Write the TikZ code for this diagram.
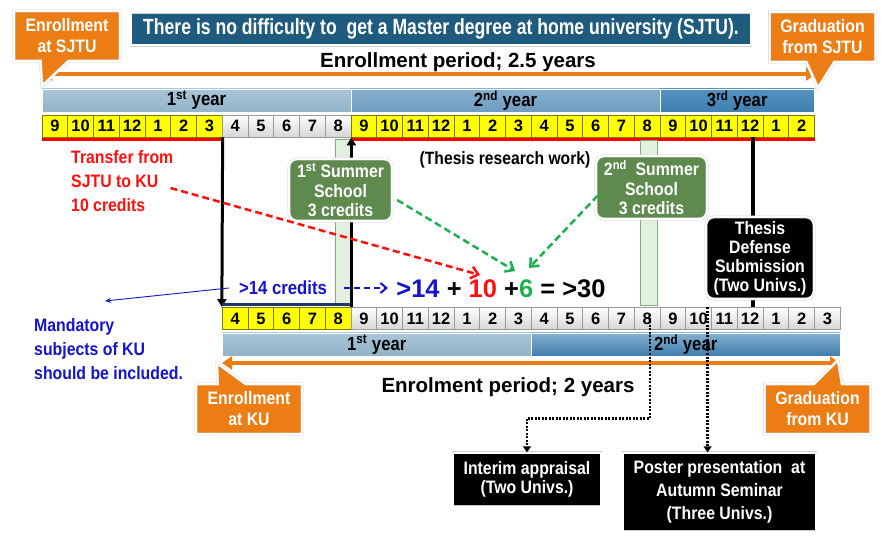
\documentclass[tikz,border=0pt]{standalone}
\usepackage{fontspec}
\setmainfont{Liberation Sans}
\newfontfamily\cond[FakeStretch=0.88]{Liberation Sans}
\newfontfamily\condT[FakeStretch=0.8]{Liberation Sans}
\usetikzlibrary{arrows.meta,shapes.callouts,calc}
\definecolor{orangeC}{HTML}{EC7D14}
\definecolor{titleblue}{HTML}{1F5B7E}
\definecolor{greenC}{HTML}{5E8A4E}
\definecolor{yel}{HTML}{FFFF00}
\definecolor{yeldark}{HTML}{7A7A00}
\definecolor{cellgray}{HTML}{D6D6D6}
\definecolor{cellgraydark}{HTML}{9A9A9A}
\definecolor{stripC}{HTML}{CFE6CC}
\definecolor{stripD}{HTML}{7FAF7C}
\definecolor{navyC}{HTML}{1F3864}
\definecolor{blueT}{HTML}{1414C8}
\definecolor{redT}{HTML}{FF1010}
\definecolor{greenT}{HTML}{1FAF4F}
\definecolor{yA}{HTML}{A9C5D8}
\definecolor{yAd}{HTML}{93B3C8}
\definecolor{yB}{HTML}{86B0CF}
\definecolor{yBd}{HTML}{6E9CC0}
\definecolor{yC}{HTML}{5592C0}
\definecolor{yCd}{HTML}{3F7EAE}
\tikzset{
  cellbase/.style={minimum width=25.75pt, minimum height=22pt, inner sep=0pt, line width=0.8pt, font=\fontsize{16.5}{16.5}\selectfont\bfseries},
  cellY/.style={cellbase, fill=yel, draw=yeldark},
  cellW/.style={cellbase, top color=white, bottom color=cellgray, draw=cellgraydark},
  yearbar/.style={minimum height=23pt, inner sep=0pt, draw=white, line width=0.6pt, font=\cond\bfseries\fontsize{19}{19}\selectfont},
  callbox/.style={rectangle callout, fill=orangeC, draw=gray!35, double=white, double distance=2pt, text=white, align=center, font=\cond\bfseries\fontsize{18}{21}\selectfont, minimum width=106pt, minimum height=50pt, inner sep=0pt, callout pointer width=28pt},
  greenbox/.style={fill=greenC, rounded corners=8pt, draw=gray!35, double=white, double distance=2pt, text=white, align=center, font=\cond\bfseries\fontsize{18}{19.5}\selectfont, inner sep=0pt},
  blackbox/.style={fill=black, draw=gray!40, double=white, double distance=2pt, text=white, align=center, font=\cond\bfseries\fontsize{18}{19}\selectfont, inner sep=0pt},
  strip/.style={fill=stripC, draw=stripD, line width=0.6pt, fill opacity=0.6, inner sep=0pt},
  orangearrow/.style={draw=orangeC, line width=4pt, {Triangle[length=10pt,width=13pt]}-{Triangle[length=10pt,width=13pt]}},
  periodtxt/.style={font=\bfseries\fontsize{20.5}{20.5}\selectfont},
  blackarrow/.style={draw=black, line width=3pt, -{Triangle[length=8pt,width=9pt]}},
  dotarrow/.style={draw=black, line width=2.5pt, dash pattern=on 2pt off 1.5pt, -{Triangle[length=6pt,width=8pt]}},
  dasharrow/.style={line width=2.5pt, dash pattern=on 7pt off 4pt, -{Straight Barb[length=7pt,width=12pt]}},
  plaintxt/.style={font=\cond\bfseries\fontsize{18}{24}\selectfont, align=left, inner sep=0pt},
}
\begin{document}
\begin{tikzpicture}[x=1pt,y=-1pt]
\useasboundingbox[fill=white] (0,0) rectangle (881,537);

% ---------- top timeline ----------
\coordinate (oa1) at (42,74); \coordinate (oa2) at (816,74);
\draw[orangearrow] (oa1) -- (oa2);
\node[periodtxt] (per1) at (458,62) {Enrollment period; 2.5 years};

\node[yearbar, minimum width=309pt, top color=yA, bottom color=yAd] (ty1) at (196.5,100.5) {1\textsuperscript{st} year};
\node[yearbar, minimum width=309pt, top color=yB, bottom color=yBd] (ty2) at (505.5,100.5) {2\textsuperscript{nd} year};
\node[yearbar, minimum width=154.5pt, top color=yC, bottom color=yCd] (ty3) at (737.25,100.5) {3\textsuperscript{rd} year};

\foreach \m [count=\i from 0] in {9,10,11,12,1,2,3}
  \node[cellY] (t\i) at ({42+25.75*(\i+0.5)},126) {\m};
\foreach \m [count=\i from 7] in {4,5,6,7,8}
  \node[cellW] (t\i) at ({42+25.75*(\i+0.5)},126) {\m};
\foreach \m [count=\i from 12] in {9,10,11,12,1,2,3,4,5,6,7,8,9,10,11,12,1,2}
  \node[cellY] (t\i) at ({42+25.75*(\i+0.5)},126) {\m};

\draw[red, line width=3pt] ([yshift=-2.5pt]t0.south west) -- ([yshift=-2.5pt]t6.south east);
\draw[red, line width=3pt] ([yshift=-2.5pt]t12.south west) -- ([yshift=-2.5pt]t29.south east);

% ---------- bottom timeline ----------
\foreach \m [count=\i from 0] in {4,5,6,7,8}
  \node[cellY] (b\i) at ({222.25+25.75*(\i+0.5)},318.5) {\m};
\foreach \m [count=\i from 5] in {9,10,11,12,1,2,3,4,5,6,7,8,9,10,11,12,1,2,3}
  \node[cellW] (b\i) at ({222.25+25.75*(\i+0.5)},318.5) {\m};

\node[yearbar, minimum width=309pt, top color=yA, bottom color=yAd] (by1) at (376.75,344.5) {1\textsuperscript{st} year};
\node[yearbar, minimum width=309pt, top color=yB, bottom color=yCd] (by2) at (685.75,344.5) {2\textsuperscript{nd} year};

\coordinate (ob1) at (222,363); \coordinate (ob2) at (840,363);
\draw[orangearrow] (ob1) -- (ob2);
\node[periodtxt] (per2) at (508,387) {Enrolment period; 2 years};

% ---------- title ----------
\node[fill=titleblue, draw=gray!35, double=white, double distance=2pt, minimum width=620pt, minimum height=33pt, inner sep=0pt, text=white, font=\condT\bfseries\fontsize{22}{22}\selectfont] (title) at (441,29) {There is no difficulty to~ get a Master degree at home university (SJTU).};

% ---------- callouts ----------
\node[callbox, callout absolute pointer={(42,86)}] (enrS) at (67,36) {Enrollment\\at SJTU};
\node[callbox, callout absolute pointer={(818,88)}] (gradS) at (822.5,37) {Graduation\\from SJTU};
\node[callbox, callout absolute pointer={(217,363)}] (enrK) at (249,409) {Enrollment\\at KU};
\node[callbox, callout absolute pointer={(838,360)}] (gradK) at (817.5,409) {Graduation\\from KU};

% ---------- strips and bracket ----------
\node[strip, minimum width=15pt, minimum height=165pt] (s1) at (343,222) {};
\node[strip, minimum width=17pt, minimum height=165pt] (s2) at (648.5,222.5) {};

\draw[blackarrow] (t6.south east) -- (b0.north west);
\draw[navyC, line width=3pt] ($(b0.north west)+(0,-3)$) -- ($(b4.north east)+(0,-3)$);
\draw[blackarrow] (b4.north east) -- (t11.south east);

\draw[black, line width=4pt] ([xshift=3pt]t27.south) -- ([xshift=3pt]b20.north);

% ---------- boxes ----------
\node[greenbox, minimum width=103pt, minimum height=62pt] (ss1) at (340.5,190) {1\textsuperscript{st} Summer\\School\\3 credits};
\node[greenbox, minimum width=111pt, minimum height=63pt] (ss2) at (651.5,187.5) {2\textsuperscript{nd}~ Summer\\School\\3 credits};
\node[blackbox, rounded corners=8pt, minimum width=108pt, minimum height=82pt] (thesis) at (760,258) {Thesis\\Defense\\Submission\\(Two Univs.)};

\node[blackbox, minimum width=148pt, minimum height=54pt] (interim) at (527,479.5) {Interim appraisal\\(Two Univs.)};
\node[blackbox, minimum width=193pt, minimum height=79pt, font=\cond\bfseries\fontsize{18}{23}\selectfont] (poster) at (719.5,492) {Poster presentation~ at\\Autumn Seminar\\(Three Univs.)};

% ---------- texts ----------
\node[font=\cond\bfseries\fontsize{17.8}{17.8}\selectfont] (thesiswork) at (505,160) {(Thesis research work)};
\node[plaintxt, text=redT, anchor=west] (transfer) at (71,181) {Transfer from\\SJTU to KU\\10 credits};
\node[plaintxt, text=blueT, anchor=west] (mand) at (34,349) {Mandatory\\subjects of KU\\should be included.};
\node[plaintxt, text=blueT, font=\cond\bfseries\fontsize{19}{19}\selectfont] (cr14) at (283,288) {>14 credits};
\node[font=\bfseries\fontsize{25.5}{25.5}\selectfont, inner sep=0pt] (formula) at (501,289)
  {\textcolor{blueT}{>14} + \textcolor{redT}{10} +\textcolor{greenT}{6} = >30};

% ---------- connectors ----------
\coordinate (tenT) at (480,275);
\coordinate (sixA) at (515,271);
\coordinate (sixB) at (529,268);
\coordinate (mandT) at (105,301);
\coordinate (fStart) at (388,288);

\draw[dasharrow, draw=redT] ($(transfer.east)+(-3,7)$) -- (tenT);
\draw[dasharrow, draw=greenT] ($(ss1.east)+(5,10)$) -- (sixA);
\draw[dasharrow, draw=greenT] ($(ss2.west)+(2,8)$) -- (sixB);
\draw[blueT, line width=2pt, dash pattern=on 6pt off 4pt, -{Straight Barb[length=6pt,width=10pt]}] ($(cr14.east)+(17,0)$) -- (fStart);
\draw[blueT, line width=0.9pt, -{Stealth[length=6pt,width=5pt]}] ($(cr14.west)+(-10,0)$) -- (mandT);

\coordinate (d1) at ($(b16.center)+(3,-4)$);
\draw[dotarrow] (d1) |- ($(interim.north)+(0,-34)$) -- (interim.north);
\coordinate (d2) at ($(b18.center)+(9,-11)$);
\draw[dotarrow] (d2) -- (d2 |- poster.north);
\end{tikzpicture}
\end{document}
